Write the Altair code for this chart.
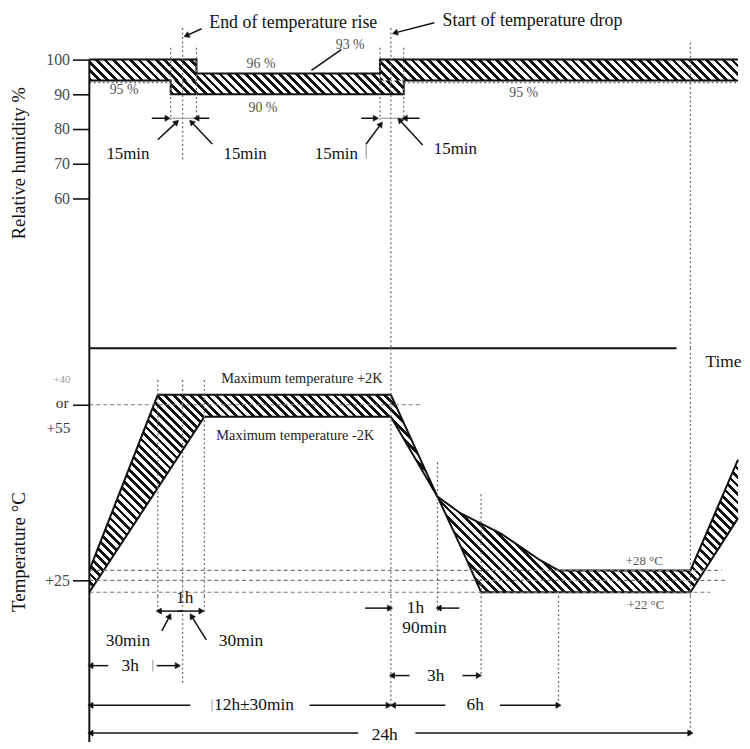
import math
import pandas as pd
import altair as alt

FONT = "Liberation Serif"
INK = "#111111"
DOT = "#707070"

# ---------------- schematic (piecewise) scales ----------------
X_HOURS = [0, 2.5, 2.75, 3, 3.25, 3.5, 11.75, 12, 12.25, 13, 15, 18, 24, 26]
X_PX = [0, 69, 82, 94, 108, 116, 293, 304, 317, 351, 395, 473, 606, 654]
RH_PCT = [60, 100]
RH_PX = [189, 49]
T_DEG = [22, 25, 28, 53, 55, 57]
T_PX = [246, 234, 224, 69, 57, 47]
D_LEVEL = [0, 147]
PLOT_W, RH_H, T_H, D_H = 654, 340, 250, 147

# ---------------- humidity panel data ----------------
RH_BAND_START = [0, 2.75, 11.75]
RH_BAND_END = [3.25, 12.25, 26]
RH_BAND_LOW = [94, 90, 94]
RH_BAND_HIGH = [100, 96, 100]
RH_UPPER_T = [0, 3.25, 3.25, 11.75, 11.75, 26]
RH_UPPER_V = [100, 100, 96, 96, 100, 100]
RH_LOWER_T = [0, 2.75, 2.75, 12.25, 12.25, 26]
RH_LOWER_V = [94, 94, 90, 90, 94, 94]
RH_TICKS = [60, 70, 80, 90, 100]

RH_TITLE_LABELS = ["End of temperature rise", "Start of temperature drop"]
RH_TITLE_T = [3.73, 13.23]
RH_TITLE_V = [110.6, 111.1]
RH_MIN_LABELS = ["15min", "15min", "15min", "15min"]
RH_MIN_T = [1.41, 5.41, 9.7, 13.82]
RH_MIN_V = [72.9, 72.9, 72.9, 74.3]
RH_PCT_LABELS = ["93 %", "96 %", "90 %", "95 %", "95 %"]
RH_PCT_T = [10.35, 6.16, 6.25, 1.27, 16.65]
RH_PCT_V = [104.3, 98.6, 86.0, 91.1, 90.3]

RH_ARROW_T0 = [2.28, 3.73, 10.87, 12.6, 2.5, 3.87, 11.1, 12.67, 3.41, 12.93]
RH_ARROW_V0 = [83.1, 83.1, 83.1, 83.1, 76.9, 75.7, 75.7, 75.4, 108.9, 110.6]
RH_ARROW_T1 = [2.69, 3.25, 11.56, 12.27, 2.875, 3.16, 11.77, 12.17, 3.07, 12.08]
RH_ARROW_V1 = [83.1, 83.1, 83.1, 83.1, 82.0, 82.0, 81.4, 82.6, 106.9, 107.7]
RH_THIN_T0 = [2.75, 11.75, 11.1]
RH_THIN_V0 = [83.1, 83.1, 75.7]
RH_THIN_T1 = [3.25, 12.25, 11.1]
RH_THIN_V1 = [83.1, 83.1, 71.4]
RH_LEADER_T0 = [9.93]
RH_LEADER_V0 = [102.9]
RH_LEADER_T1 = [8.53]
RH_LEADER_V1 = [96.9]

RH_VDOT_T = [2.75, 3, 3.25, 11.75, 12, 12.25, 24]
RH_VDOT_TOP = [103.4, 109.1, 103.4, 103.4, 109.1, 103.4, 104.9]
RH_VDOT_BOT = [82.6, 70.6, 82.6, 82.6, None, 82.6, None]   # None = panel bottom
RH_HDOT_T0 = [0, 12.25]
RH_HDOT_T1 = [2.75, 26]
RH_HDOT_V = [93.4, 93.4]
RH_BASE_END = 23.37

# ---------------- temperature panel data ----------------
T_T = [0, 2.5, 3.5, 12, 13, 14.05, 15, 15.77, 16.5, 17.27, 18, 24, 26]
T_UP = [28, 57, 57, 57, 40, 37.3, 35.6, 34.0, 31.9, 29.7, 28, 28, 46]
T_LOW = [22, 41.4, 53, 53, 40, 32.0, 22, 22, 22, 22, 22, 22, 36.5]
T_TICKS = [25, 55]

T_NOTE_LABELS = ["Maximum temperature +2K", "Maximum temperature -2K"]
T_NOTE_T = [4.29, 4.06]
T_NOTE_V = [60.2, 49.8]
T_SIDE_LABELS = ["+40", "or", "+55"]
T_SIDE_T = [-0.69, -0.76, -0.69]
T_SIDE_V = [60.0, 55.4, 51.2]
T_TIME_T = [24.63]
T_TIME_V = [63.6]
T_TOL_LABELS = ["+28 °C"]
T_TOL_T = [21.9]
T_TOL_V = [29.45]

T_HDASH_T1 = [12.63, 25.33, 25.5, 24.83]
T_HDASH_V = [55, 28, 25, 22]
T_VDOT_T = [2.5, 3, 3.5, 12, 13, 15, 18, 24]
T_VDOT_TOP = [60, 60, 60, None, 45.6, 40.4, 22.3, None]   # None = panel top

# ---------------- dimension panel data (levels measured downward) ----------------
D_LABELS = ["1h", "30min", "30min", "3h", "12h±30min", "1h", "90min", "3h", "6h", "24h"]
D_T = [3.04, 1.41, 5.22, 1.49, 5.83, 12.51, 12.71, 12.96, 14.73, 11.86]
D_V = [2, 45, 45, 70, 110, 12, 32, 80, 110, 140]
D_TOL_LABELS = ["+22 °C"]
D_TOL_T = [21.97]
D_TOL_V = [9]
D_ARROW_T0 = [3.0, 2.9, 2.58, 3.59, 0.69, 2.46, 3.14, 8.44, 11.05, 14.0, 12.38, 14.14, 13.36, 15.73, 10.73, 12.51]
D_ARROW_V0 = [15, 15, 35, 44, 70, 70, 110, 110, 12, 12, 80, 80, 110, 110, 138, 138]
D_ARROW_T1 = [2.52, 3.41, 2.73, 3.16, 0.04, 2.9, 0.04, 11.95, 11.98, 13.05, 12.02, 14.9, 12.04, 18, 0.04, 24]
D_ARROW_V1 = [15, 15, 20, 20, 70, 70, 110, 110, 12, 12, 80, 80, 110, 110, 138, 138]
D_TICK_T = [2.32, 3.86]
D_TICK_TOP = [64, 104]
D_TICK_BOT = [76, 116]
D_VDOT_T = [2.5, 3, 3.5, 12, 13, 15, 18, 24]
D_VDOT_BOT = [17, 89, 17, 110, 15, 80, 110, 137]


# ---------------- helpers ----------------
def pw(v, dom, rng):
    i = 1
    while i < len(dom) - 1 and v > dom[i]:
        i += 1
    d0, d1, r0, r1 = dom[i - 1], dom[i], rng[i - 1], rng[i]
    return r0 + (v - d0) * (r1 - r0) / (d1 - d0)


def pw_inv(p, dom, rng):
    if rng[0] > rng[-1]:
        return pw(p, list(reversed(rng)), list(reversed(dom)))
    return pw(p, rng, dom)


def xpx(t):
    return pw(t, X_HOURS, X_PX)


def rh_px(v):
    return pw(v, RH_PCT, RH_PX)


def t_px(v):
    return pw(v, T_DEG, T_PX)


def d_px(v):
    return pw(v, D_LEVEL, D_LEVEL)


RH_TOP = pw_inv(0, RH_PCT, RH_PX)
RH_BOT = pw_inv(RH_H, RH_PCT, RH_PX)
T_TOP = pw_inv(0, T_DEG, T_PX)
T_BOT = pw_inv(T_H, T_DEG, T_PX)


def hatch(wpx, hpx, period=8.5, duty=0.45, ink=INK, paper="#ffffff"):
    """Diagonal '\\' stripes as a hard-stop linear gradient (bbox units)."""
    span = wpx + hpx
    n = max(1, int(round(span / period)))
    s = span / (wpx ** 2 + hpx ** 2)
    stops = []
    for k in range(n):
        a, b, c = k / n, (k + duty) / n, min(1.0, (k + 1) / n)
        stops += [alt.GradientStop(offset=a, color=ink), alt.GradientStop(offset=b, color=ink),
                  alt.GradientStop(offset=b, color=paper), alt.GradientStop(offset=c, color=paper)]
    return alt.LinearGradient(gradient="linear", stops=stops, x1=0, y1=1, x2=s * wpx, y2=1 - s * hpx)


XS = alt.Scale(domain=X_HOURS, range=X_PX, nice=False, zero=False)
RHS = alt.Scale(domain=RH_PCT, range=RH_PX, nice=False, zero=False)
TS = alt.Scale(domain=T_DEG, range=T_PX, nice=False, zero=False)
DS = alt.Scale(domain=D_LEVEL, range=D_LEVEL, nice=False, zero=False)

RH_AXIS = alt.Axis(values=RH_TICKS, title="Relative humidity   %", titleX=-61, titleY=153,
                   titleFontSize=18.5, titleFontWeight="normal", titleColor=INK, titleFont=FONT,
                   labelFontSize=16, labelColor="#4a4a4a", labelFont=FONT, labelPadding=3,
                   tickSize=17, tickWidth=1.6, tickColor=INK, domain=False, grid=False)
T_AXIS = alt.Axis(values=T_TICKS, labelExpr="datum.value == 25 ? '+25' : ''",
                  title="Temperature   °C", titleX=-61, titleY=205,
                  titleFontSize=19, titleFontWeight="normal", titleColor=INK, titleFont=FONT,
                  labelFontSize=16, labelColor="#4a4a4a", labelFont=FONT, labelPadding=3,
                  tickSize=17, tickWidth=1.6, tickColor=INK, domain=False, grid=False)


def X(f):
    return alt.X(f, type="quantitative", scale=XS, axis=None)


def make_y(scale, axis):
    def f(field):
        if axis is None:
            return alt.Y(field, type="quantitative", scale=scale, axis=None)
        return alt.Y(field, type="quantitative", scale=scale, axis=axis)
    return f


ry = make_y(RHS, RH_AXIS)
ty = make_y(TS, T_AXIS)
dy = make_y(DS, None)


def vrules(ts, tops, bots, yf, **style):
    df = pd.DataFrame({"t": ts, "top": tops, "bot": bots})
    return alt.Chart(df).mark_rule(**style).encode(x=X("t"), y=yf("top"), y2=alt.Y2("bot"))


def hrules(t0, t1, vs, yf, **style):
    df = pd.DataFrame({"t0": t0, "t1": t1, "v": vs})
    return alt.Chart(df).mark_rule(**style).encode(x=X("t0"), x2=alt.X2("t1"), y=yf("v"))


def segments(t0, v0, t1, v1, yf, **style):
    df = pd.DataFrame({"t0": t0, "v0": v0, "t1": t1, "v1": v1})
    return alt.Chart(df).mark_rule(**style).encode(x=X("t0"), y=yf("v0"), x2=alt.X2("t1"), y2=alt.Y2("v1"))


def arrows(t0, v0, t1, v1, yf, ymap):
    angs = []
    for a, b, c, d in zip(t0, v0, t1, v1):
        dxp = xpx(c) - xpx(a)
        dyp = ymap(d) - ymap(b)
        angs.append(round(math.degrees(math.atan2(dxp, -dyp)) % 360, 1))
    df = pd.DataFrame({"t0": t0, "v0": v0, "t1": t1, "v1": v1, "ang": angs})
    base = alt.Chart(df)
    line = base.mark_rule(color=INK, strokeWidth=1.5).encode(
        x=X("t0"), y=yf("v0"), x2=alt.X2("t1"), y2=alt.Y2("v1"))
    head = base.mark_point(shape="triangle-up", filled=True, size=38, fill=INK, stroke=INK,
                           strokeWidth=0.5, opacity=1).encode(
        x=X("t1"), y=yf("v1"), angle=alt.Angle("ang:Q", scale=None))
    return [line, head]


def texts(labels, ts, vs, yf, **style):
    df = pd.DataFrame({"label": labels, "t": ts, "v": vs})
    return alt.Chart(df).mark_text(font=FONT, baseline="middle", **style).encode(
        x=X("t"), y=yf("v"), text="label:N")


def outline(ts, vs, yf):
    df = pd.DataFrame({"t": ts, "v": vs, "i": list(range(len(ts)))})
    return alt.Chart(df).mark_line(color=INK, strokeWidth=2).encode(
        x=X("t"), y=yf("v"), order=alt.Order("i:Q"))


DOTTED = dict(color=DOT, strokeWidth=1.3, strokeDash=[2, 2.5])
DASHED = dict(color="#7a7a7a", strokeWidth=1.2, strokeDash=[4, 3])

# ---------------- humidity panel ----------------
rh_layers = []
for idx in [1, 0, 2]:
    w = xpx(RH_BAND_END[idx]) - xpx(RH_BAND_START[idx])
    h = abs(rh_px(RH_BAND_LOW[idx]) - rh_px(RH_BAND_HIGH[idx]))
    df = pd.DataFrame({"t0": [RH_BAND_START[idx]], "t1": [RH_BAND_END[idx]],
                       "lo": [RH_BAND_LOW[idx]], "hi": [RH_BAND_HIGH[idx]]})
    rh_layers.append(alt.Chart(df).mark_rect(fill=hatch(w, h), strokeWidth=0).encode(
        x=X("t0"), x2=alt.X2("t1"), y=ry("lo"), y2=alt.Y2("hi")))
rh_layers.append(outline(RH_UPPER_T, RH_UPPER_V, ry))
rh_layers.append(outline(RH_LOWER_T, RH_LOWER_V, ry))
rh_layers.append(vrules(RH_VDOT_T, RH_VDOT_TOP, [RH_BOT if b is None else b for b in RH_VDOT_BOT], ry, **DOTTED))
rh_layers.append(hrules(RH_HDOT_T0, RH_HDOT_T1, RH_HDOT_V, ry, **DOTTED))
rh_layers.append(segments(RH_THIN_T0, RH_THIN_V0, RH_THIN_T1, RH_THIN_V1, ry, color="#8a8a8a", strokeWidth=1))
rh_layers.append(segments(RH_LEADER_T0, RH_LEADER_V0, RH_LEADER_T1, RH_LEADER_V1, ry, color=INK, strokeWidth=1.5))
rh_layers.append(vrules([0], [100], [RH_BOT], ry, color=INK, strokeWidth=2))
rh_layers.append(hrules([0], [RH_BASE_END], [RH_BOT], ry, color=INK, strokeWidth=2))
rh_layers += arrows(RH_ARROW_T0, RH_ARROW_V0, RH_ARROW_T1, RH_ARROW_V1, ry, rh_px)
rh_layers.append(texts(RH_TITLE_LABELS, RH_TITLE_T, RH_TITLE_V, ry, align="left", fontSize=18, color=INK))
rh_layers.append(texts(RH_MIN_LABELS, RH_MIN_T, RH_MIN_V, ry, align="center", fontSize=17, color=INK))
rh_layers.append(texts(RH_PCT_LABELS, RH_PCT_T, RH_PCT_V, ry, align="center", fontSize=14, color="#555555"))
humid = alt.layer(*rh_layers).properties(width=PLOT_W, height=RH_H)

# ---------------- temperature panel ----------------
tw = xpx(max(T_T)) - xpx(min(T_T))
th = t_px(min(T_LOW)) - t_px(max(T_UP))
t_df = pd.DataFrame({"t": T_T, "up": T_UP, "low": T_LOW})
t_layers = [
    alt.Chart(t_df).mark_area(fill=hatch(tw, th), strokeWidth=0, interpolate="linear").encode(
        x=X("t"), y=ty("up"), y2=alt.Y2("low")),
    outline(T_T, T_UP, ty),
    outline(T_T, T_LOW, ty),
    hrules([0] * len(T_HDASH_T1), T_HDASH_T1, T_HDASH_V, ty, **DASHED),
    vrules(T_VDOT_T, [T_TOP if v is None else v for v in T_VDOT_TOP], [T_BOT] * len(T_VDOT_T), ty, **DOTTED),
    vrules([0], [T_TOP], [T_BOT], ty, color=INK, strokeWidth=2),
    texts(T_NOTE_LABELS, T_NOTE_T, T_NOTE_V, ty, align="left", fontSize=14.5, color="#222222"),
    texts(T_SIDE_LABELS[:1], T_SIDE_T[:1], T_SIDE_V[:1], ty, align="right", fontSize=11, color="#9a9a9a"),
    texts(T_SIDE_LABELS[1:], T_SIDE_T[1:], T_SIDE_V[1:], ty, align="right", fontSize=15.5, color="#333333"),
    texts(["Time"], T_TIME_T, T_TIME_V, ty, align="left", fontSize=17.5, color=INK),
    texts(T_TOL_LABELS, T_TOL_T, T_TOL_V, ty, align="center", fontSize=13, color="#555555"),
]
temp = alt.layer(*t_layers).properties(width=PLOT_W, height=T_H)

# ---------------- dimension panel ----------------
d_layers = [
    vrules(D_VDOT_T, [0] * len(D_VDOT_T), D_VDOT_BOT, dy, **DOTTED),
    vrules(D_TICK_T, D_TICK_TOP, D_TICK_BOT, dy, color="#9a9a9a", strokeWidth=1),
    vrules([0], [0], [D_H], dy, color=INK, strokeWidth=2),
]
d_layers += arrows(D_ARROW_T0, D_ARROW_V0, D_ARROW_T1, D_ARROW_V1, dy, d_px)
d_layers.append(texts(D_LABELS, D_T, D_V, dy, align="center", fontSize=17.5, color=INK))
d_layers.append(texts(D_TOL_LABELS, D_TOL_T, D_TOL_V, dy, align="center", fontSize=13, color="#555555"))
dims = alt.layer(*d_layers).properties(width=PLOT_W, height=D_H)

chart = (
    alt.vconcat(humid, temp, dims, spacing=0, bounds="flush")
    .resolve_scale(x="independent", y="independent")
    .properties(padding={"left": 2, "top": 0, "right": 0, "bottom": 0})
    .configure(font=FONT)
    .configure_view(stroke=None)
)

chart.save("out.html", embed_options={"renderer": "svg", "actions": False})
